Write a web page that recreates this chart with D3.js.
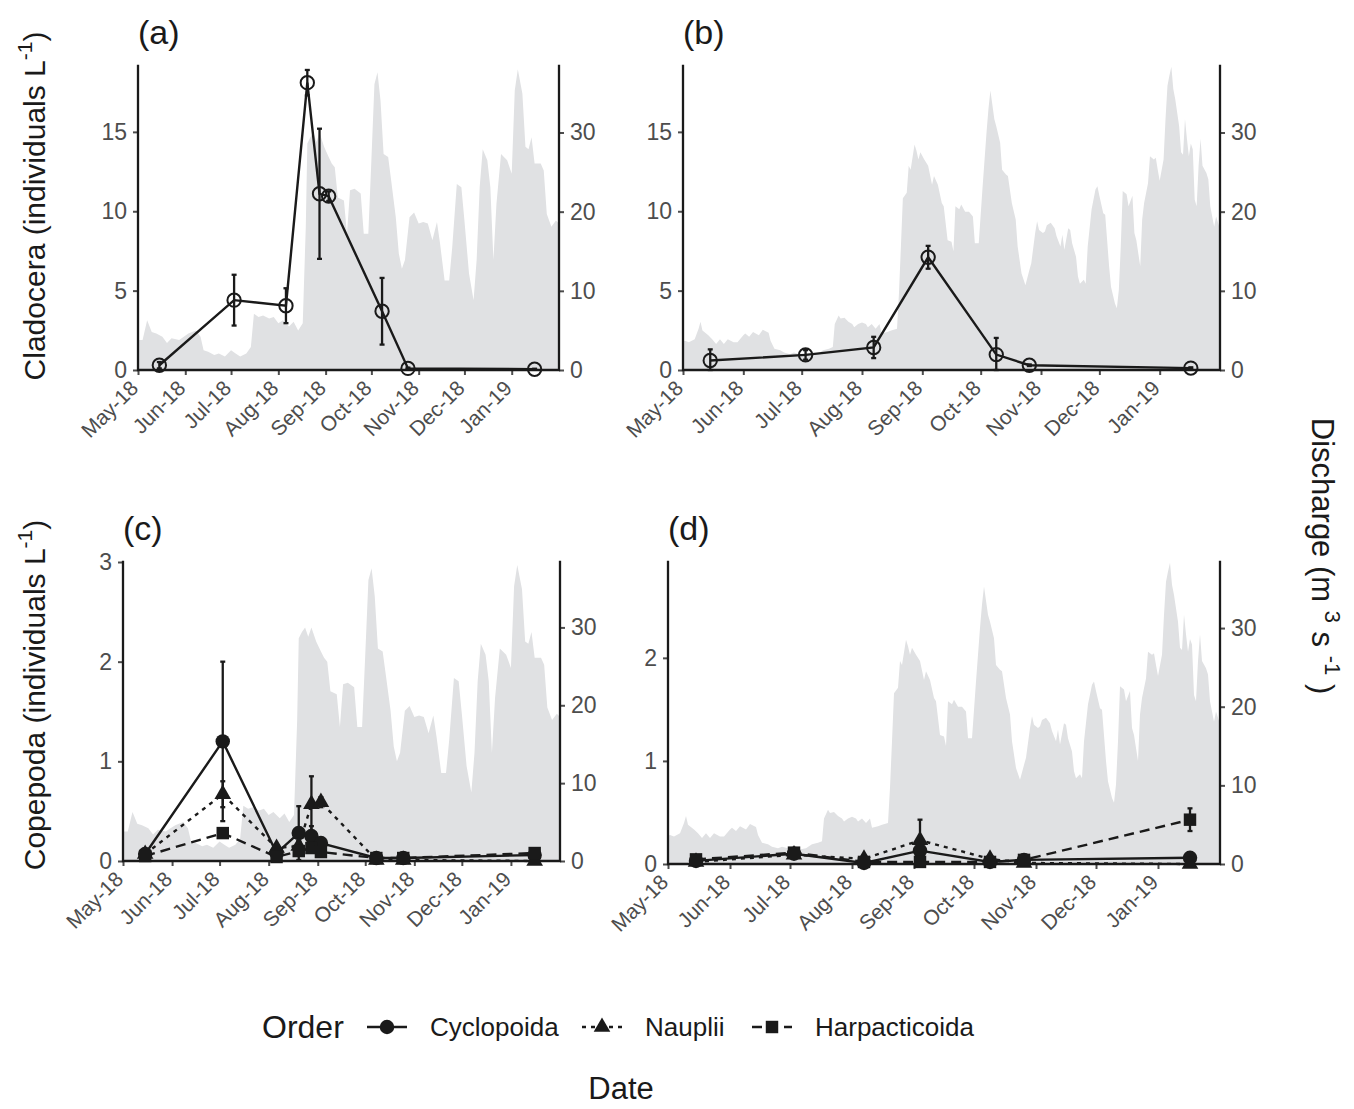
<!DOCTYPE html>
<html>
<head>
<meta charset="utf-8">
<script src="https://cdn.jsdelivr.net/npm/d3@7"></script>
<style>
  body { margin: 0; background: #fff; }
  text { font-family: "Liberation Sans", Arial, Helvetica, sans-serif; }
</style>
</head>
<body>
<svg width="1354" height="1109"></svg>
<script>
// ---- data (days counted from 1 May 2018) ----
// discharge, site of panels (a) and (c), m3 s-1
var q1Day = [0,3,6,9,12,16,19,22,27,30,33,38,41,43,46,50,53,57,61,64,67,71,74,76,79,82,86,89,92,95,99,102,105,108,
  110,111,113,115,117,119,122,125,127,129,131,135,137,139,142,146,148,151,153,155,157,159,161,164,166,169,171,173,175,
  178,181,184,187,190,193,196,198,201,204,206,209,212,214,217,220,222,224,226,229,231,233,235,238,242,245,247,249,252,
  254,256,258,260,264,266,268,271,274,276];
var q1Val = [3.8,3.8,6.3,4.8,4.6,4.2,3.4,4.0,3.8,4.2,4.6,5.0,4.2,2.5,2.3,1.9,2.1,1.7,2.5,2.1,1.7,2.1,2.9,7.1,6.7,6.9,6.5,6.7,5.9,6.3,5.5,6.1,5.0,5.9,
  18.1,28.6,29.4,30.0,28.8,30.0,28.2,26.9,26.1,25.6,21.8,21.4,17.2,22.7,22.9,22.3,17.2,17.2,26.5,36.1,37.6,34.0,27.3,26.9,23.9,19.3,14.7,12.8,13.9,
  19.3,19.9,18.5,18.7,18.5,16.4,18.7,16.0,11.3,11.3,15.5,23.5,23.1,18.9,12.2,8.8,13.9,23.1,27.9,26.5,23.1,13.9,21.0,27.3,26.5,24.8,35.3,38.0,34.9,
  28.2,27.9,29.4,26.1,26.1,25.2,19.7,18.1,18.9,18.5];

// discharge, site of panels (b) and (d)
var q2Day = [0,1,3,6,8,9,10,13,15,17,19,21,23,26,28,31,32,34,36,39,41,44,45,47,50,52,55,57,60,63,65,69,72,75,77,78,80,81,83,85,87,88,90,
  92,94,95,97,99,101,102,105,107,110,111,112,113,115,116,117,119,120,121,122,124,126,128,129,131,133,134,136,138,139,140,142,143,145,147,149,150,152,
  154,156,157,158,160,161,163,164,166,167,169,171,172,174,176,178,179,181,182,183,185,186,187,189,191,192,194,195,196,198,199,200,202,203,204,206,207,
  208,210,212,213,214,216,217,219,220,222,223,224,225,226,228,229,231,232,233,235,236,237,239,240,242,243,244,245,247,248,249,250,251,252,253,255,256,
  257,258,259,260,261,262,263,264,265,266,267,269,270,271,273,274,276];
var q2Val = [3.6,3.7,3.5,3.9,5.2,6.1,5.0,4.4,3.9,3.3,3.9,3.3,3.9,3.5,3.5,4.4,4.6,4.2,4.8,4.4,5.1,4.7,3.7,2.7,2.5,2.2,2.0,2.2,2.0,2.2,1.8,2.0,2.5,2.7,2.9,5.8,6.9,6.5,6.6,6.1,5.8,5.4,5.8,
  6.0,5.8,5.4,5.8,5.2,5.8,4.6,4.8,5.0,5.2,9.7,15.6,21.7,22.4,25.8,25.3,28.5,27.7,26.6,27.5,26.6,25.8,23.4,24.5,23.4,21.1,20.7,16.4,16.2,15.0,20.7,20.3,20.9,20.0,20.0,19.4,16.0,16.0,
  23.2,30.0,33.0,35.3,31.7,30.8,28.7,25.3,24.7,24.5,21.1,19.0,15.6,12.2,10.7,12.6,13.5,17.3,18.8,17.7,17.3,17.5,18.3,18.6,17.9,16.9,15.6,17.1,15.2,17.9,17.7,16.0,14.3,11.8,10.9,11.4,10.9,
  15.6,20.3,22.8,23.2,22.0,19.8,19.6,13.1,10.5,8.4,7.8,10.1,15.6,22.6,22.2,20.7,22.0,17.3,16.4,13.1,19.0,21.1,23.6,27.0,26.6,26.8,25.3,23.9,26.6,31.7,35.9,37.2,38.3,35.5,34.2,30.8,27.5,
  27.2,31.7,29.2,27.0,28.6,27.9,21.5,20.7,25.8,29.2,25.8,24.9,24.1,20.7,18.1,19.4,17.8];

// sampling days
var sample1 = [14, 63, 97, 111, 119, 125, 160, 177, 260];
var sample2 = [14, 63, 98, 126, 161, 178, 261];

// Cladocera, individuals L-1 (mean and error)
var clad1 = [0.3, 4.4, 4.05, 18.1, 11.1, 10.95, 3.7, 0.1, 0.05];
var clad1Err = [0.2, 1.6, 1.1, 0.8, 4.1, 0.3, 2.1, 0.05, 0.03];
var clad2 = [0.6, 0.95, 1.42, 7.1, 0.97, 0.3, 0.12];
var clad2Err = [0.7, 0.3, 0.67, 0.72, 1.05, 0.05, 0.05];

// Copepoda, individuals L-1
var cyclo1 = [0.07, 1.2, 0.08, 0.28, 0.25, 0.18, 0.03, 0.03, 0.06];
var cyclo1Err = [0.03, 0.8, 0.02, 0.27, 0.1, 0.05, 0.01, 0.01, 0.02];
var naup1 = [0.07, 0.67, 0.13, 0.15, 0.57, 0.59, 0.01, 0.01, 0.0];
var naup1Err = [0.02, 0.13, 0.03, 0.05, 0.28, 0.05, 0.01, 0.01, 0.0];
var harp1 = [0.05, 0.28, 0.04, 0.1, 0.13, 0.09, 0.03, 0.03, 0.08];
var harp1Err = [0.02, 0.03, 0.02, 0.03, 0.04, 0.03, 0.01, 0.01, 0.02];

var cyclo2 = [0.03, 0.1, 0.01, 0.13, 0.02, 0.04, 0.06];
var cyclo2Err = [0.01, 0.02, 0.01, 0.03, 0.01, 0.01, 0.01];
var naup2 = [0.02, 0.09, 0.05, 0.23, 0.05, 0.01, 0.0];
var naup2Err = [0.01, 0.02, 0.02, 0.2, 0.02, 0.01, 0.0];
var harp2 = [0.045, 0.11, 0.02, 0.02, 0.02, 0.04, 0.43];
var harp2Err = [0.01, 0.02, 0.01, 0.01, 0.01, 0.01, 0.11];

var orders = ['Cyclopoida', 'Nauplii', 'Harpacticoida'];

// ---- drawing ----
var svg = d3.select('svg');
var ink = '#1a1a1a', grey = '#4d4d4d', areaFill = '#e0e1e3';
var start = new Date(Date.UTC(2018, 4, 1)), end = new Date(Date.UTC(2019, 1, 1));
var qMax = 38.4;
var months = d3.utcMonths(start, end);
var fmt = d3.utcFormat('%b-%y');
function day(d) { return new Date(Date.UTC(2018, 4, 1 + d)); }

var shapes = {
  open: d3.symbol().type(d3.symbolCircle).size(140),
  circle: d3.symbol().type(d3.symbolCircle).size(165),
  triangle: d3.symbol().type(d3.symbolTriangle).size(120),
  square: d3.symbol().type(d3.symbolSquare).size(155)
};
var dashes = { Cyclopoida: null, Nauplii: '4,5', Harpacticoida: '10,6' };
var shapeOf = { Cyclopoida: 'circle', Nauplii: 'triangle', Harpacticoida: 'square' };

function drawPanel(p) {
  var x = d3.scaleUtc().domain([start, end]).range([p.x0, p.x1]);
  var y = d3.scaleLinear().domain([0, p.ymax]).range([p.y1, p.y0]);
  var yq = d3.scaleLinear().domain([0, qMax]).range([p.y1, p.y0]);
  var g = svg.append('g');

  // discharge area
  g.append('path')
    .datum(d3.zip(p.qDay, p.qVal))
    .attr('fill', areaFill)
    .attr('d', d3.area()
      .x(function(d) { return x(day(d[0])); })
      .y0(p.y1)
      .y1(function(d) { return yq(d[1]); }));

  // axes
  var left = g.append('g').attr('transform', 'translate(' + p.x0 + ',0)')
    .call(d3.axisLeft(y).tickValues(p.yticks).tickFormat(d3.format('d')).tickSize(5).tickPadding(6));
  var right = g.append('g').attr('transform', 'translate(' + p.x1 + ',0)')
    .call(d3.axisRight(yq).tickValues([0, 10, 20, 30]).tickSize(5).tickPadding(6));
  var bottom = g.append('g').attr('transform', 'translate(0,' + p.y1 + ')')
    .call(d3.axisBottom(x).tickValues(months).tickSize(5).tickFormat(''));
  [left, right, bottom].forEach(function(a) {
    a.attr('font-family', null).attr('font-size', 23);
    a.select('.domain').remove();
    a.selectAll('.tick line').attr('stroke', grey).attr('stroke-width', 2);
    a.selectAll('.tick text').attr('fill', grey);
  });
  g.selectAll('text.month')
    .data(months)
    .enter().append('text')
    .attr('class', 'month')
    .attr('transform', function(d) { return 'translate(' + (x(d) - 9) + ',' + (p.y1 + 9) + ') rotate(-45)'; })
    .attr('text-anchor', 'end')
    .attr('dy', '0.71em')
    .attr('font-size', 21)
    .attr('fill', grey)
    .text(fmt);

  g.append('path')
    .attr('d', 'M' + p.x0 + ',' + p.y0 + 'V' + p.y1 + 'H' + p.x1 + 'V' + p.y0)
    .attr('fill', 'none').attr('stroke', ink).attr('stroke-width', 2.3)
    .attr('stroke-linecap', 'square');

  // series
  var series = p.series.map(function(s) {
    return { s: s, pts: p.days.map(function(d, i) { return { x: x(day(d)), v: s.vals[i], e: s.err[i] }; }) };
  });
  series.forEach(function(o) {
    g.append('path').datum(o.pts)
      .attr('fill', 'none').attr('stroke', ink).attr('stroke-width', 2.4)
      .attr('stroke-dasharray', o.s.dash)
      .attr('d', d3.line().x(function(d) { return d.x; }).y(function(d) { return y(d.v); }));
  });
  series.forEach(function(o) {
    var eb = g.append('g').selectAll('g').data(o.pts.filter(function(d) { return d.e > 0; }))
      .enter().append('g').attr('stroke', ink).attr('stroke-width', 2.3);
    eb.append('line')
      .attr('x1', function(d) { return d.x; }).attr('x2', function(d) { return d.x; })
      .attr('y1', function(d) { return y(Math.max(0, d.v - d.e)); })
      .attr('y2', function(d) { return y(d.v + d.e); });
    [-1, 1].forEach(function(sign) {
      eb.append('line')
        .attr('x1', function(d) { return d.x - 2.5; }).attr('x2', function(d) { return d.x + 2.5; })
        .attr('y1', function(d) { return y(Math.max(0, d.v + sign * d.e)); })
        .attr('y2', function(d) { return y(Math.max(0, d.v + sign * d.e)); });
    });
  });
  series.forEach(function(o) {
    g.append('g').selectAll('path').data(o.pts)
      .enter().append('path')
      .attr('transform', function(d) { return 'translate(' + d.x + ',' + y(d.v) + ')'; })
      .attr('d', shapes[o.s.shape])
      .attr('fill', o.s.shape === 'open' ? 'none' : ink)
      .attr('stroke', ink)
      .attr('stroke-width', o.s.shape === 'open' ? 2 : 0);
  });

  svg.append('text')
    .attr('x', p.x0).attr('y', p.y0 - 22)
    .attr('font-size', 34).attr('fill', ink)
    .text(p.tag);
}

function copepods(vals, errs) {
  return orders.map(function(name, i) {
    return { vals: vals[i], err: errs[i], shape: shapeOf[name], dash: dashes[name] };
  });
}

drawPanel({ tag: '(a)', x0: 138, x1: 559, y0: 66, y1: 370, ymax: 19.15, yticks: [0, 5, 10, 15],
  qDay: q1Day, qVal: q1Val, days: sample1,
  series: [{ vals: clad1, err: clad1Err, shape: 'open', dash: null }] });
drawPanel({ tag: '(b)', x0: 683, x1: 1220, y0: 66, y1: 370, ymax: 19.15, yticks: [0, 5, 10, 15],
  qDay: q2Day, qVal: q2Val, days: sample2,
  series: [{ vals: clad2, err: clad2Err, shape: 'open', dash: null }] });
drawPanel({ tag: '(c)', x0: 123, x1: 560, y0: 562, y1: 861, ymax: 3.0, yticks: [0, 1, 2, 3],
  qDay: q1Day, qVal: q1Val, days: sample1,
  series: copepods([cyclo1, naup1, harp1], [cyclo1Err, naup1Err, harp1Err]) });
drawPanel({ tag: '(d)', x0: 668, x1: 1220, y0: 562, y1: 864, ymax: 2.93, yticks: [0, 1, 2],
  qDay: q2Day, qVal: q2Val, days: sample2,
  series: copepods([cyclo2, naup2, harp2], [cyclo2Err, naup2Err, harp2Err]) });

// axis titles
function yTitle(label, cy) {
  var t = svg.append('text')
    .attr('transform', 'translate(45,' + cy + ') rotate(-90)')
    .attr('text-anchor', 'middle').attr('font-size', 30).attr('fill', ink);
  t.append('tspan').text(label + ' (individuals L');
  t.append('tspan').attr('dy', -13).attr('font-size', 21).text('-1');
  t.append('tspan').attr('dy', 13).text(')');
}
yTitle('Cladocera', 206);
yTitle('Copepoda', 695);

var qt = svg.append('text')
  .attr('transform', 'translate(1312,556) rotate(90)')
  .attr('text-anchor', 'middle').attr('font-size', 31).attr('fill', ink);
qt.append('tspan').text('Discharge (m ');
qt.append('tspan').attr('dy', -13).attr('font-size', 22).text('3');
qt.append('tspan').attr('dy', 13).text(' s ');
qt.append('tspan').attr('dy', -13).attr('font-size', 22).text('-1');
qt.append('tspan').attr('dy', 13).text(' )');

svg.append('text').attr('x', 621).attr('y', 1099)
  .attr('text-anchor', 'middle').attr('font-size', 31).attr('fill', ink).text('Date');

// legend
var leg = svg.append('g').attr('transform', 'translate(0,1027)');
leg.append('text').attr('x', 262).attr('y', 11).attr('font-size', 32).attr('fill', ink).text('Order');
var keyX = [367, 582, 752];
orders.forEach(function(name, i) {
  var k = leg.append('g').attr('transform', 'translate(' + keyX[i] + ',0)');
  k.append('line').attr('x1', 0).attr('x2', 40).attr('stroke', ink).attr('stroke-width', 2.4)
    .attr('stroke-dasharray', dashes[name]);
  k.append('path').attr('transform', 'translate(20,0)').attr('d', shapes[shapeOf[name]]).attr('fill', ink);
  k.append('text').attr('x', 63).attr('y', 9).attr('font-size', 26).attr('fill', ink).text(name);
});
</script>
</body>
</html>
